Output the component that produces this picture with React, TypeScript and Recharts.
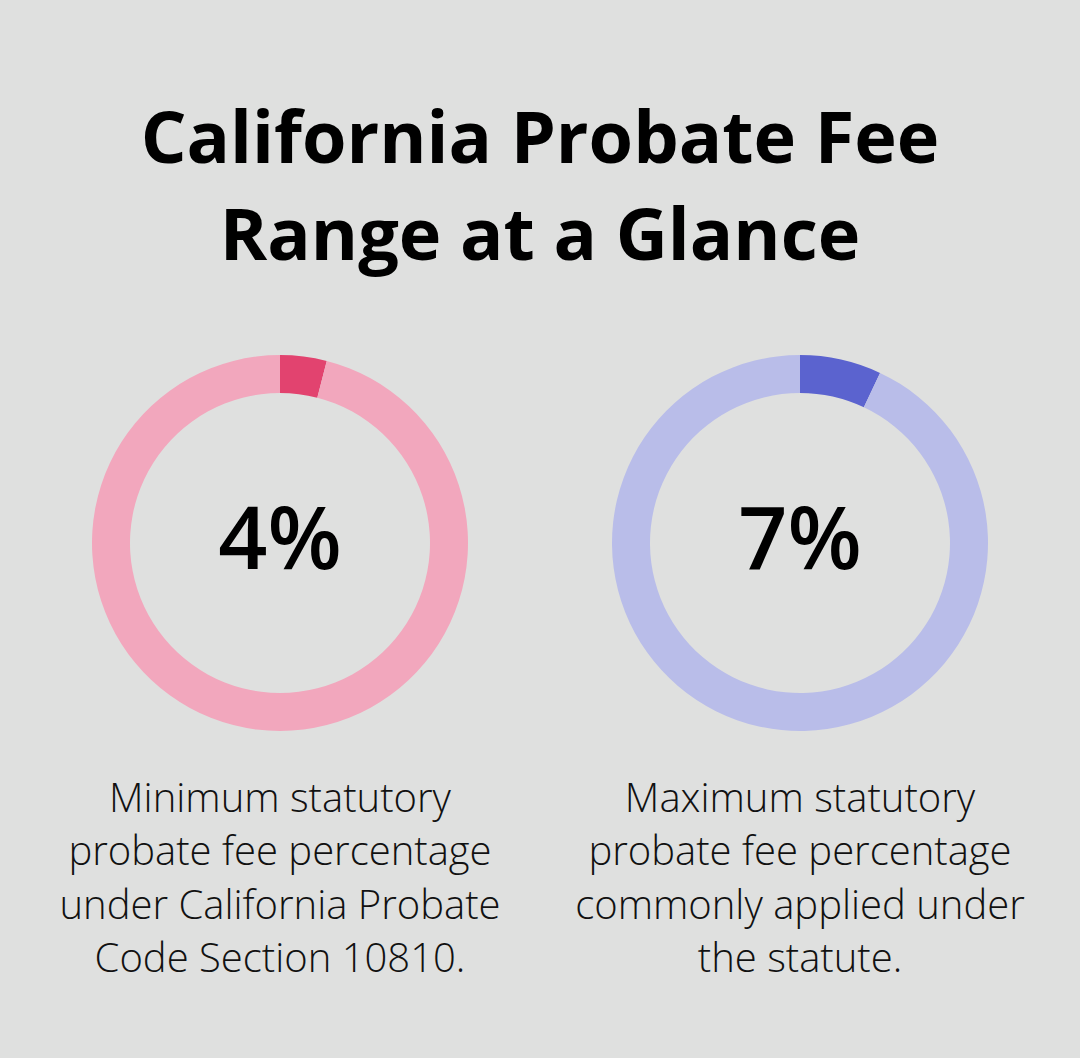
import { PieChart, Pie, Cell } from "recharts";

const titleLines = ["California Probate Fee", "Range at a Glance"];
const percentages = [4, 7];
const valueLabels = ["4%", "7%"];
const descriptions = [
  ["Minimum statutory", "probate fee percentage", "under California Probate", "Code Section 10810."],
  ["Maximum statutory", "probate fee percentage", "commonly applied under", "the statute."],
];
const activeColors = ["#e2436f", "#5b63cf"];
const trackColors = ["#f2a7bd", "#b9bde9"];

const W = 1080;
const H = 1058;
const centersX = [280, 800];
const centerY = 543;
const font = "'Open Sans', 'Noto Sans', sans-serif";

export default function App() {
  return (
    <div
      style={{
        position: "absolute",
        left: 0,
        top: 0,
        width: W,
        height: H,
        background: "#dfe0df",
        fontFamily: font,
      }}
    >
      <PieChart width={W} height={H} margin={{ top: 0, right: 0, bottom: 0, left: 0 }}>
        {percentages.map((p, i) => (
          <Pie
            key={i}
            data={[
              { name: "value", value: p },
              { name: "rest", value: 100 - p },
            ]}
            dataKey="value"
            cx={centersX[i]}
            cy={centerY}
            innerRadius={150}
            outerRadius={188}
            startAngle={90}
            endAngle={-270}
            stroke="none"
            isAnimationActive={false}
          >
            <Cell fill={activeColors[i]} />
            <Cell fill={trackColors[i]} />
          </Pie>
        ))}
      </PieChart>
      <svg
        width={W}
        height={H}
        style={{ position: "absolute", left: 0, top: 0, pointerEvents: "none" }}
      >
        {titleLines.map((t, i) => (
          <text
            key={t}
            x={W / 2}
            y={163 + i * 97}
            textAnchor="middle"
            fontFamily={font}
            fontWeight={700}
            fontSize={72}
            fill="#000"
          >
            {t}
          </text>
        ))}
        {valueLabels.map((v, i) => (
          <text
            key={v}
            x={centersX[i]}
            y={569}
            textAnchor="middle"
            fontFamily={font}
            fontWeight={600}
            fontSize={86}
            fill="#000"
          >
            {v}
          </text>
        ))}
        {descriptions.map((lines, i) =>
          lines.map((l, j) => (
            <text
              key={`${i}-${j}`}
              x={centersX[i]}
              y={812 + j * 53.3}
              textAnchor="middle"
              fontFamily={font}
              fontWeight={300}
              fontSize={40}
              fill="#111"
            >
              {l}
            </text>
          ))
        )}
      </svg>
    </div>
  );
}
